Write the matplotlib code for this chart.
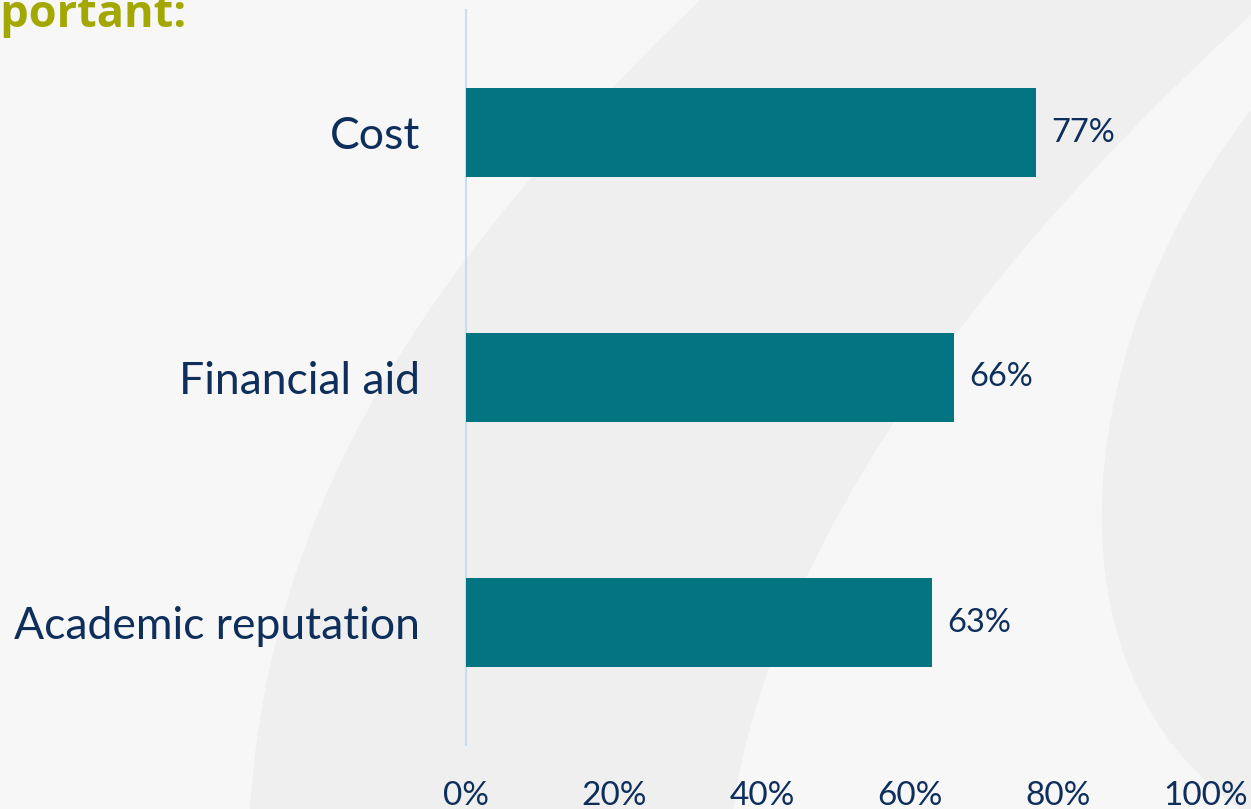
import matplotlib
matplotlib.use("Agg")
import matplotlib.pyplot as plt
from matplotlib.patches import PathPatch
from matplotlib.path import Path

# ---- data ----
categories = ["Cost", "Financial aid", "Academic reputation"]
values = [77, 66, 63]
xticks = [0, 20, 40, 60, 80, 100]
xtick_labels = ["0%", "20%", "40%", "60%", "80%", "100%"]
title_text = "Important:"

W, H = 1251, 809
BG = "#f7f7f7"
SHAPE = "#efefef"
BAR = "#037481"
NAVY = "#0e2f5c"
OLIVE = "#a3a800"
AXIS = "#c8def5"
FONT = "Lato"

fig = plt.figure(figsize=(W / 100, H / 100), dpi=100, facecolor=BG)


def fp(p):
    return (p[0] / W, 1 - p[1] / H)


def deco(verts, codes):
    path = Path([fp(v) for v in verts], codes)
    fig.add_artist(PathPatch(path, transform=fig.transFigure,
                             facecolor=SHAPE, edgecolor="none", zorder=0))


M, C, L, Z = Path.MOVETO, Path.CURVE4, Path.LINETO, Path.CLOSEPOLY
# large sweeping shape
deco([(700, 0), (430, 260), (270, 500), (250, 809),
      (733, 809), (770, 560), (960, 280), (1251, 15),
      (1251, 0), (700, 0)],
     [M, C, C, C, L, C, C, C, L, Z])
# right crescent
deco([(1251, 110), (1080, 330), (1030, 660), (1240, 809),
      (1251, 809), (1251, 110)],
     [M, C, C, C, L, Z])

ax = fig.add_axes([466 / W, 64 / H, (1206 - 466) / W, (745 - 10) / H])
ax.set_facecolor("none")
ax.set_zorder(2)

ypos = list(range(len(categories)))
ax.barh(ypos, values, height=0.36, color=BAR, zorder=3)
ax.set_xlim(0, 100)
ax.set_ylim(len(categories) - 0.5, -0.5)

ax.set_yticks(ypos)
ax.set_yticklabels(categories, fontsize=32, color=NAVY, family=FONT)
ax.set_xticks(xticks)
ax.set_xticklabels(xtick_labels, fontsize=24, color=NAVY, family=FONT)
ax.tick_params(axis="y", length=0, pad=33)
ax.tick_params(axis="x", length=0, pad=26)

for s in ("top", "right", "bottom"):
    ax.spines[s].set_visible(False)
ax.spines["left"].set_color(AXIS)
ax.spines["left"].set_linewidth(1.5)

for y, v in zip(ypos, values):
    ax.annotate(f"{v}%", xy=(v, y), xytext=(11, 0), textcoords="offset points",
                ha="left", va="center", fontsize=23.5, color=NAVY, family=FONT)

fig.text(186 / W, 1 - 27 / H, title_text, ha="right", va="baseline",
         fontsize=32.5, fontweight="bold", color=OLIVE, family="Open Sans")

fig.savefig("out.png", dpi=100, facecolor=BG)
